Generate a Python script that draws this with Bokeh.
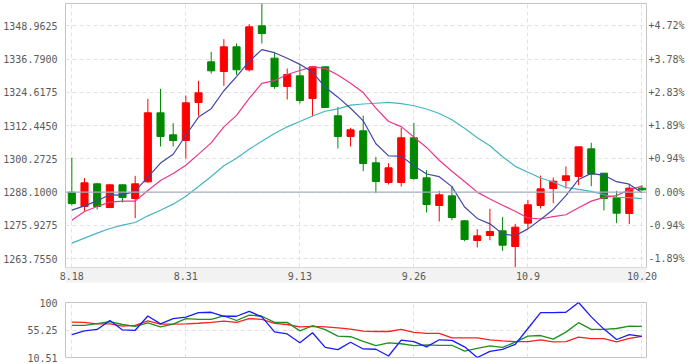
from bokeh.plotting import figure
from bokeh.models import Range1d, FixedTicker, LinearAxis, Span, PrintfTickFormatter
from bokeh.layouts import column
from bokeh.embed import file_html
from bokeh.resources import INLINE

# ---- data ----
date_labels = ["8.18", "8.31", "9.13", "9.26", "10.9", "10.20"]
date_label_idx = [0, 9, 18, 27, 36, 45]

open_ = [1288.08, 1282.84, 1291.13, 1282.47, 1290.77, 1285.76, 1291.86, 1317.12, 1309.07, 1306.99,
         1320.90, 1335.78, 1332.25, 1341.27, 1332.86, 1348.96, 1337.13, 1326.76, 1330.66, 1322.36,
         1333.95, 1316.02, 1308.46, 1310.53, 1298.82, 1291.62, 1291.62, 1307.97, 1293.33, 1283.20,
         1286.74, 1277.59, 1270.39, 1272.22, 1273.93, 1268.20, 1276.74, 1283.20, 1289.42, 1292.35,
         1293.82, 1303.94, 1295.04, 1286.01, 1280.27, 1289.55]
high = [1300.77, 1293.21, 1291.50, 1291.13, 1290.89, 1294.06, 1322.24, 1325.90, 1313.34, 1323.46,
        1328.83, 1339.44, 1344.08, 1342.49, 1349.57, 1357.13, 1339.08, 1333.34, 1334.56, 1334.32,
        1334.20, 1319.31, 1311.63, 1316.02, 1301.01, 1298.70, 1311.63, 1313.46, 1296.13, 1288.57,
        1290.28, 1277.83, 1274.54, 1281.98, 1278.93, 1276.49, 1285.28, 1294.18, 1293.45, 1297.48,
        1304.67, 1306.14, 1295.04, 1288.57, 1291.01, 1290.64]
low = [1283.20, 1281.25, 1281.74, 1282.23, 1284.30, 1278.57, 1291.50, 1304.80, 1304.80, 1300.40,
       1316.02, 1331.51, 1327.00, 1331.03, 1332.25, 1342.49, 1325.90, 1322.00, 1320.53, 1315.78,
       1319.07, 1304.06, 1304.80, 1295.77, 1287.72, 1290.89, 1290.16, 1292.60, 1280.64, 1277.35,
       1277.83, 1270.15, 1267.83, 1270.51, 1266.61, 1260.51, 1274.78, 1282.10, 1284.06, 1289.42,
       1290.64, 1290.28, 1281.37, 1276.74, 1276.37, 1288.57]
close = [1283.93, 1291.50, 1282.84, 1290.77, 1286.13, 1291.13, 1317.12, 1308.46, 1306.99, 1320.78,
         1324.44, 1332.49, 1341.27, 1332.86, 1348.59, 1346.15, 1326.76, 1331.15, 1321.63, 1333.95,
         1319.07, 1308.46, 1310.90, 1298.57, 1291.99, 1296.99, 1307.97, 1293.08, 1283.57, 1287.11,
         1278.81, 1270.76, 1272.10, 1273.69, 1268.68, 1275.27, 1283.45, 1289.30, 1292.11, 1294.06,
         1304.67, 1294.67, 1285.76, 1280.40, 1289.55, 1288.94]

ma5 = [1281.49, 1283.08, 1284.91, 1287.11, 1287.03, 1288.47, 1293.60, 1298.72, 1301.97, 1308.90,
       1315.56, 1318.63, 1325.19, 1330.37, 1335.93, 1340.27, 1339.13, 1337.10, 1334.86, 1331.93,
       1326.51, 1322.85, 1318.80, 1314.19, 1305.80, 1301.38, 1301.28, 1297.72, 1294.72, 1293.74,
       1290.11, 1282.67, 1278.47, 1276.49, 1272.81, 1272.10, 1274.64, 1278.08, 1281.76, 1286.84,
       1292.72, 1294.96, 1294.26, 1291.91, 1291.01, 1287.86]
ma10 = [1277.83, 1281.01, 1282.84, 1284.42, 1284.79, 1284.79, 1288.69, 1292.35, 1294.91, 1297.96,
        1302.01, 1306.11, 1311.96, 1316.17, 1322.41, 1327.92, 1328.88, 1331.15, 1332.61, 1333.93,
        1333.39, 1330.99, 1327.95, 1324.52, 1318.86, 1313.95, 1312.07, 1308.26, 1304.45, 1299.77,
        1295.74, 1291.97, 1288.09, 1285.61, 1283.28, 1281.10, 1278.65, 1278.27, 1279.13, 1279.82,
        1282.41, 1284.80, 1286.17, 1286.84, 1288.92, 1290.29]
ma20 = [1269.42, 1271.25, 1273.08, 1274.78, 1276.00, 1276.98, 1279.42, 1281.49, 1283.69, 1286.62,
        1290.16, 1293.82, 1297.72, 1300.53, 1303.82, 1306.75, 1309.55, 1311.99, 1313.95, 1315.95,
        1317.70, 1318.55, 1319.95, 1320.34, 1320.63, 1320.93, 1320.47, 1319.70, 1318.53, 1316.85,
        1314.57, 1311.48, 1308.02, 1305.06, 1301.06, 1297.53, 1295.35, 1293.27, 1291.79, 1289.79,
        1289.07, 1288.39, 1287.13, 1286.22, 1286.09, 1285.69]

base_price = 1288.10
price_ticks = [1263.7550, 1275.9275, 1288.1000, 1300.2725, 1312.4450, 1324.6175, 1336.7900, 1348.9625]
pct_labels = ["-1.89%", "-0.94%", "\u00a00.00%", "+0.94%", "+1.89%", "+2.83%", "+3.78%", "+4.72%"]

ind_blue = [47.8, 53.8, 56.2, 70.7, 55.3, 54.8, 78.1, 65.2, 73.7, 76.1,
            83.6, 84.1, 77.6, 77.6, 85.6, 76.6, 52.3, 48.8, 34.4, 50.8,
            26.9, 23.4, 35.4, 24.4, 23.9, 13.0, 38.8, 36.4, 27.9, 39.3,
            38.4, 27.9, 10.51, 20.5, 23.9, 31.9, 57.7, 83.6, 83.6, 84.1,
            100.0, 76.6, 56.7, 39.8, 47.8, 44.8]
ind_green = [62.7, 62.7, 65.7, 68.7, 64.2, 61.2, 66.7, 60.2, 64.7, 73.7,
             72.7, 72.7, 78.1, 70.7, 79.6, 77.6, 67.7, 67.7, 53.8, 62.2,
             55.8, 45.3, 44.3, 36.9, 29.9, 34.4, 32.9, 29.9, 30.9, 30.4,
             30.4, 21.0, 25.4, 29.4, 26.9, 35.4, 45.3, 46.3, 40.3, 51.8,
             67.2, 56.2, 56.2, 57.7, 61.7, 61.2]
ind_red = [68.2, 67.7, 65.2, 65.2, 61.7, 62.7, 70.2, 64.7, 64.7, 65.2,
           66.2, 67.7, 69.7, 67.7, 73.7, 72.7, 66.2, 64.2, 60.2, 61.2,
           60.2, 58.7, 56.7, 53.3, 52.8, 52.8, 56.2, 51.3, 49.8, 49.8,
           42.3, 42.3, 42.3, 39.3, 37.4, 36.4, 36.4, 39.3, 35.9, 36.4,
           43.8, 41.3, 41.3, 35.9, 41.8, 44.8]
ind_ticks = [10.51, 55.255, 100.0]
ind_tick_labels = ["10.51", "55.25", "100"]

# ---- styling / layout ----
FONT = "DejaVu Sans Mono"
TXT = "#5a5a5a"
GRID = "#e2e2e2"
FRAME = "#c4c4c4"
UP, DOWN = "#ff0000", "#008800"
W = 692
BL, BR = 65, 46

n = len(close)
idx = list(range(n))
colors = [UP if c > o else DOWN for o, c in zip(open_, close)]
body_top = [max(o, c) for o, c in zip(open_, close)]
body_bot = [min(o, c) for o, c in zip(open_, close)]

x_range = Range1d(-0.5, 45.36)


def style_common(f):
    f.outline_line_color = FRAME
    f.outline_line_width = 1
    f.border_fill_color = "white"
    f.background_fill_color = "white"
    f.xgrid.ticker = FixedTicker(ticks=date_label_idx)
    f.xgrid.grid_line_color = GRID
    f.xgrid.grid_line_dash = "4 3"
    f.ygrid.grid_line_color = GRID
    f.ygrid.grid_line_dash = "4 3"


def style_axis(ax):
    ax.axis_line_color = None
    ax.major_tick_line_color = None
    ax.minor_tick_line_color = None
    ax.major_tick_out = 0
    ax.major_tick_in = 0
    ax.major_label_text_font = FONT
    ax.major_label_text_font_size = "10px"
    ax.major_label_text_color = TXT


# ---- main candlestick panel ----
p = figure(width=W, height=289, x_range=x_range,
           y_range=Range1d(min(low), max(high)),
           x_axis_location=None, output_backend="svg", toolbar_location=None,
           min_border_left=BL, min_border_right=BR, min_border_top=3, min_border_bottom=22)
style_common(p)
p.ygrid.ticker = FixedTicker(ticks=price_ticks)
yl = p.yaxis[0]
yl.ticker = FixedTicker(ticks=price_ticks)
yl.formatter = PrintfTickFormatter(format="%.4f")
yl.major_label_standoff = 8
style_axis(yl)

yr = LinearAxis(ticker=FixedTicker(ticks=price_ticks),
                major_label_overrides=dict(zip(price_ticks, pct_labels)))
yr.major_label_standoff = 2
style_axis(yr)
p.add_layout(yr, "right")

# date axis in a grey band under the price panel
xa = LinearAxis(ticker=FixedTicker(ticks=date_label_idx),
                major_label_overrides=dict(zip(date_label_idx, date_labels)))
style_axis(xa)
xa.major_label_standoff = 4
try:
    xa.background_fill_color = "#f2f2f2"
    xa.background_fill_alpha = 1.0
except Exception:
    pass
p.add_layout(xa, "below")

p.add_layout(Span(location=base_price, dimension="width", line_color="#a7aec2", line_width=1.2))

p.segment(x0=idx, y0=low, x1=idx, y1=high, line_color=colors, line_width=1)
p.vbar(x=idx, width=0.56, top=body_top, bottom=body_bot, fill_color=colors, line_color=colors, line_width=1)

p.line(idx, ma20, line_color="#45b4c4", line_width=1.2)
p.line(idx, ma10, line_color="#e8378b", line_width=1.2)
p.line(idx, ma5, line_color="#4048a6", line_width=1.2)

# ---- indicator panel ----
q = figure(width=W, height=75, x_range=x_range, y_range=Range1d(min(ind_ticks), max(ind_ticks)),
           x_axis_location=None, output_backend="svg", toolbar_location=None,
           min_border_left=BL, min_border_right=BR, min_border_top=13, min_border_bottom=7)
style_common(q)
q.ygrid.ticker = FixedTicker(ticks=ind_ticks)
ql = q.yaxis[0]
ql.ticker = FixedTicker(ticks=ind_ticks)
ql.major_label_overrides = dict(zip(ind_ticks, ind_tick_labels))
ql.major_label_standoff = 8
style_axis(ql)

q.line(idx, ind_red, line_color="#ff2020", line_width=1.3)
q.line(idx, ind_green, line_color="#1f8f1f", line_width=1.3)
q.line(idx, ind_blue, line_color="#1a1aff", line_width=1.3)

layout = column(p, q)

open("out.html", "w").write(file_html(layout, INLINE))
